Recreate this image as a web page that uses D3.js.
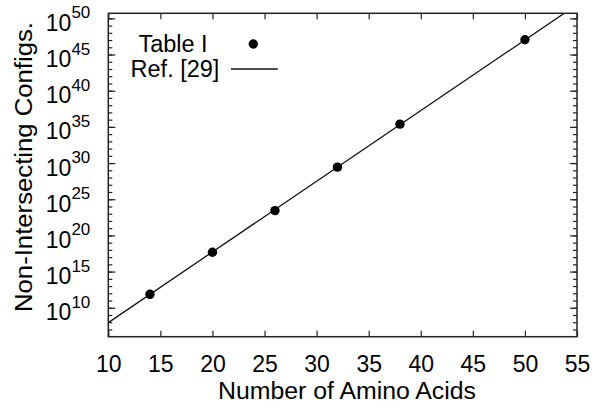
<!DOCTYPE html>
<html>
<head>
<meta charset="utf-8">
<script src="https://cdn.jsdelivr.net/npm/d3@7"></script>
<style>
  body { margin: 0; background: #fff; }
  svg { display: block; font-family: "Liberation Sans", Arial, Helvetica, sans-serif; }
</style>
</head>
<body>
<div id="vis"></div>
<script>
// Dados
const aminoAcids = [14, 20, 26, 32, 38, 50];
const tableConfigs = [7.2e11, 4.7e17, 2.7e23, 2.7e29, 2.4e35, 1.1e47];

// Curva da Ref. [29] (reta no gráfico log)
const refAminoAcids = [10, 55];
const refConfigs = [8.9e7, 7.9e51];

const xTicks = [10, 15, 20, 25, 30, 35, 40, 45, 50, 55];
const yMajorExps = [10, 15, 20, 25, 30, 35, 40, 45, 50];
const yMinorExps = d3.range(7, 51);

const W = 611, H = 412;
const margin = { top: 13.3, right: 34, bottom: 75.3, left: 108.3 };
const width = W - margin.left - margin.right;
const height = H - margin.top - margin.bottom;

const svg = d3.select("#vis").append("svg")
    .attr("width", W)
    .attr("height", H);

const g = svg.append("g")
    .attr("transform", `translate(${margin.left},${margin.top})`);

const x = d3.scaleLinear().domain([10, 55]).range([0, width]);
const y = d3.scaleLog().domain([1e6, 5e50]).range([height, 0]);

// Eixo x (baixo e topo, ticks para dentro)
g.append("g")
    .attr("transform", `translate(0,${height})`)
    .call(d3.axisBottom(x).tickValues(xTicks).tickSizeInner(-6).tickSizeOuter(0).tickPadding(18.5))
    .call(a => a.select(".domain").remove())
    .call(a => a.selectAll("text").attr("font-size", 23).attr("fill", "#000"));

g.append("g")
    .call(d3.axisTop(x).tickValues(xTicks).tickSizeInner(-6).tickSizeOuter(0).tickFormat(""))
    .call(a => a.select(".domain").remove());

// Ticks menores (cada década), esquerda e direita
g.append("g")
    .call(d3.axisLeft(y).tickValues(yMinorExps.map(e => Math.pow(10, e))).tickSizeInner(-4).tickSizeOuter(0).tickFormat(""))
    .call(a => a.select(".domain").remove());
g.append("g")
    .attr("transform", `translate(${width},0)`)
    .call(d3.axisRight(y).tickValues(yMinorExps.map(e => Math.pow(10, e))).tickSizeInner(-4).tickSizeOuter(0).tickFormat(""))
    .call(a => a.select(".domain").remove());

// Ticks maiores com rótulos 10^n
g.append("g")
    .call(d3.axisLeft(y).tickValues(yMajorExps.map(e => Math.pow(10, e))).tickSizeInner(-7).tickSizeOuter(0).tickPadding(18).tickFormat(""))
    .call(a => a.select(".domain").remove())
    .call(a => a.selectAll(".tick text").each(function(d) {
        const t = d3.select(this).attr("dy", "12").attr("fill", "#000");
        const e = Math.round(Math.log10(d));
        t.append("tspan").attr("font-size", 23).text("10");
        t.append("tspan").attr("font-size", 17).attr("dy", -12.5).text(e);
    }));
g.append("g")
    .attr("transform", `translate(${width},0)`)
    .call(d3.axisRight(y).tickValues(yMajorExps.map(e => Math.pow(10, e))).tickSizeInner(-7).tickSizeOuter(0).tickFormat(""))
    .call(a => a.select(".domain").remove());

g.selectAll(".tick line").attr("stroke", "#222").attr("stroke-width", 1.2);

// Reta de referência
g.append("clipPath").attr("id", "clip")
  .append("rect").attr("width", width).attr("height", height);

const line = d3.line().x(d => x(d[0])).y(d => y(d[1]));
g.append("path")
    .datum(d3.zip(refAminoAcids, refConfigs))
    .attr("clip-path", "url(#clip)")
    .attr("d", line)
    .attr("fill", "none")
    .attr("stroke", "#111")
    .attr("stroke-width", 1.3);

// Pontos da Tabela I
g.selectAll("circle.pt")
    .data(d3.zip(aminoAcids, tableConfigs))
    .enter()
    .append("circle")
    .attr("class", "pt")
    .attr("cx", d => x(d[0]))
    .attr("cy", d => y(d[1]))
    .attr("r", 4.7)
    .attr("fill", "#000");

// Moldura
g.append("rect")
    .attr("width", width).attr("height", height)
    .attr("fill", "none").attr("stroke", "#222").attr("stroke-width", 1.5);

// Legenda
svg.append("text").attr("x", 173).attr("y", 52.3).attr("text-anchor", "middle")
    .attr("font-size", 23.5).attr("fill", "#000").text("Table I");
svg.append("circle").attr("cx", 253.3).attr("cy", 44).attr("r", 4.7).attr("fill", "#000");
svg.append("text").attr("x", 175).attr("y", 76.5).attr("text-anchor", "middle")
    .attr("font-size", 23.5).attr("fill", "#000").text("Ref. [29]");
svg.append("line").attr("x1", 231).attr("x2", 277.7).attr("y1", 69).attr("y2", 69)
    .attr("stroke", "#111").attr("stroke-width", 1.3);

// Títulos dos eixos
svg.append("text")
    .attr("x", 347).attr("y", 399.3).attr("text-anchor", "middle")
    .attr("font-size", 23.5).attr("fill", "#000")
    .attr("textLength", 258).attr("lengthAdjust", "spacingAndGlyphs")
    .text("Number of Amino Acids");

svg.append("text")
    .attr("transform", "translate(32,167) rotate(-90)")
    .attr("text-anchor", "middle")
    .attr("font-size", 23.5).attr("fill", "#000")
    .attr("textLength", 290).attr("lengthAdjust", "spacingAndGlyphs")
    .text("Non-Intersecting Configs.");
</script>
</body>
</html>
